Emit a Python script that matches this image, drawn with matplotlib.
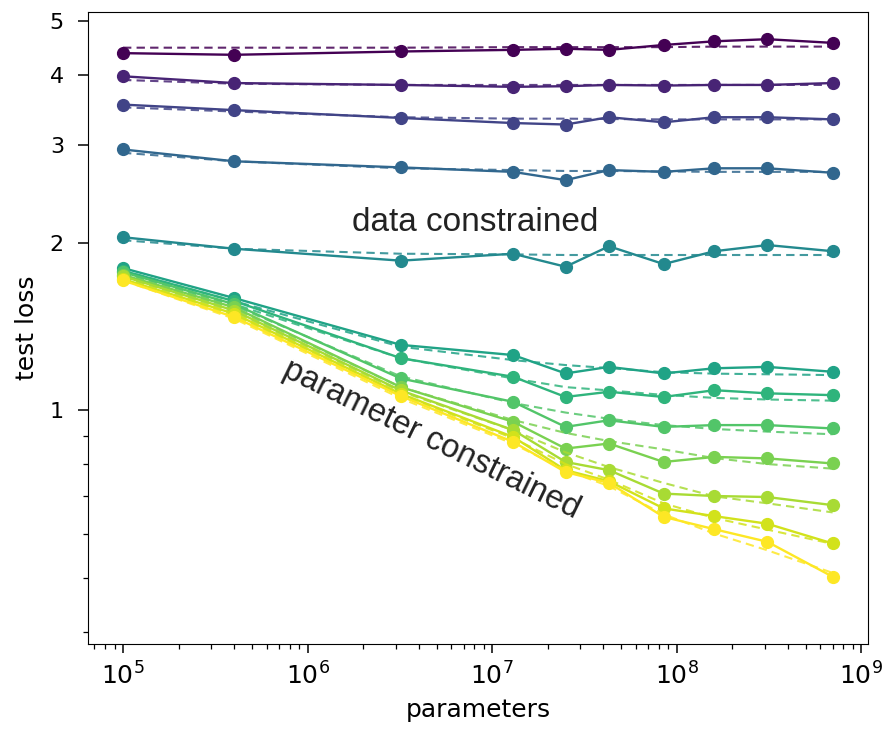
import numpy as np
import matplotlib
matplotlib.use("Agg")
import matplotlib.pyplot as plt
from matplotlib.ticker import FixedLocator, NullFormatter, FixedFormatter

# parameter counts (x)
params = [1e5, 4e5, 3.2e6, 1.3e7, 2.5e7, 4.3e7, 8.5e7, 1.6e8, 3.1e8, 7e8]

# measured test loss, one list per dataset size (top = smallest dataset)
loss_measured = [
    [4.38, 4.35, 4.41, 4.44, 4.46, 4.44, 4.53, 4.60, 4.64, 4.57],
    [3.98, 3.87, 3.84, 3.81, 3.82, 3.84, 3.83, 3.84, 3.84, 3.87],
    [3.54, 3.46, 3.35, 3.28, 3.26, 3.36, 3.29, 3.36, 3.36, 3.33],
    [2.94, 2.80, 2.73, 2.68, 2.59, 2.70, 2.68, 2.72, 2.72, 2.67],
    [2.045, 1.95, 1.856, 1.91, 1.81, 1.97, 1.83, 1.93, 1.98, 1.93],
    [1.80, 1.59, 1.31, 1.256, 1.164, 1.196, 1.164, 1.189, 1.196, 1.172],
    [1.78, 1.57, 1.24, 1.148, 1.056, 1.079, 1.056, 1.086, 1.072, 1.064],
    [1.77, 1.55, 1.14, 1.035, 0.933, 0.959, 0.933, 0.940, 0.940, 0.927],
    [1.75, 1.53, 1.10, 0.953, 0.853, 0.871, 0.807, 0.824, 0.819, 0.802],
    [1.74, 1.51, 1.085, 0.921, 0.807, 0.780, 0.708, 0.701, 0.698, 0.675],
    [1.72, 1.49, 1.07, 0.895, 0.780, 0.745, 0.666, 0.645, 0.625, 0.576],
    [1.71, 1.47, 1.06, 0.877, 0.774, 0.740, 0.643, 0.611, 0.580, 0.502],
]

# fitted curves (dashed), read at the same x positions
loss_fit = [
    [4.48, 4.48, 4.48, 4.49, 4.49, 4.49, 4.49, 4.50, 4.50, 4.50],
    [3.92, 3.86, 3.84, 3.84, 3.84, 3.84, 3.84, 3.84, 3.84, 3.84],
    [3.50, 3.44, 3.36, 3.34, 3.34, 3.335, 3.33, 3.33, 3.33, 3.33],
    [2.90, 2.80, 2.72, 2.70, 2.69, 2.69, 2.685, 2.68, 2.68, 2.68],
    [2.02, 1.95, 1.91, 1.905, 1.90, 1.90, 1.90, 1.90, 1.90, 1.90],
    [1.78, 1.57, 1.30, 1.23, 1.205, 1.19, 1.17, 1.163, 1.16, 1.156],
    [1.77, 1.55, 1.24, 1.14, 1.10, 1.085, 1.065, 1.052, 1.045, 1.04],
    [1.76, 1.54, 1.15, 1.03, 0.99, 0.965, 0.94, 0.925, 0.915, 0.905],
    [1.74, 1.52, 1.10, 0.96, 0.91, 0.88, 0.85, 0.82, 0.80, 0.785],
    [1.73, 1.50, 1.08, 0.92, 0.84, 0.79, 0.74, 0.70, 0.68, 0.655],
    [1.72, 1.48, 1.065, 0.89, 0.80, 0.75, 0.68, 0.64, 0.61, 0.575],
    [1.71, 1.46, 1.05, 0.87, 0.78, 0.73, 0.65, 0.60, 0.56, 0.51],
]

y_ticks = [1, 2, 3, 4, 5]
y_minor = [0.4, 0.5, 0.6, 0.7, 0.8, 0.9]

# position of each curve on the viridis scale
cpos = [0.0, 0.1, 0.2, 0.33, 0.47, 0.58, 0.65, 0.73, 0.8, 0.87, 0.93, 1.0]
cmap = plt.get_cmap("viridis")

fig = plt.figure(figsize=(8.87, 7.29), dpi=100)
ax = fig.add_axes([0.0987, 0.1166, 0.88, 0.8674])

for meas, fit, c in zip(loss_measured, loss_fit, cpos):
    col = cmap(c)
    ax.plot(params, fit, "--", color=col, lw=1.5, dashes=(4, 2.5), alpha=0.85)
    ax.plot(params, meas, "-o", color=col, lw=1.7, ms=8.5)

ax.set_xscale("log")
ax.set_yscale("log")
ax.set_ylim(0.38, 5.2)
ax.yaxis.set_major_locator(FixedLocator(y_ticks))
ax.yaxis.set_major_formatter(FixedFormatter([str(t) for t in y_ticks]))
ax.yaxis.set_minor_locator(FixedLocator(y_minor))
ax.yaxis.set_minor_formatter(NullFormatter())

ax.tick_params(axis="x", which="major", labelsize=18, length=6.5, width=1.1, pad=7)
ax.tick_params(axis="y", which="major", labelsize=16, length=7, width=1.1, pad=10)
ax.tick_params(which="minor", length=3.5, width=0.9)

ax.set_xlabel("parameters", fontsize=18, labelpad=6)
ax.set_ylabel("test loss", fontsize=18, labelpad=8)

ax.text(8.1e6, 2.17, "data constrained", fontsize=24, family="Liberation Sans",
        ha="center", va="center", color="#222222")
ax.text(4.7e6, 0.885, "parameter constrained", fontsize=23.5, family="Liberation Sans",
        ha="center", va="center", rotation=-26, rotation_mode="anchor", color="#222222")

fig.savefig("out.png", dpi=100)
